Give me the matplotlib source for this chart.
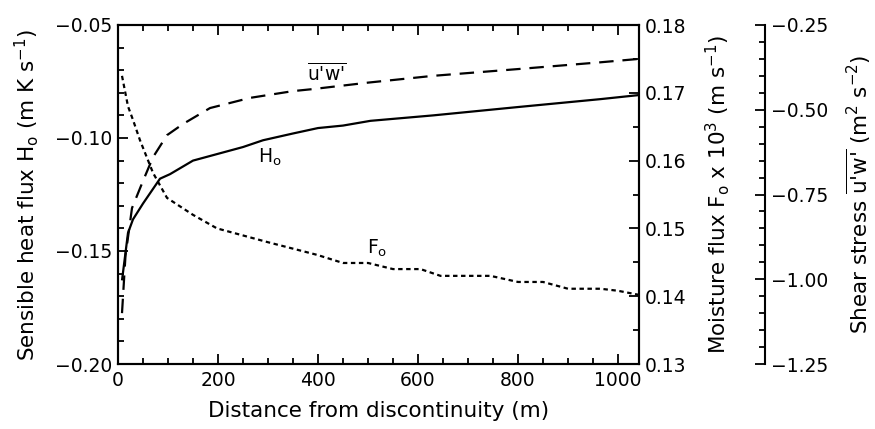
import matplotlib
matplotlib.use("Agg")
import matplotlib.pyplot as plt
from matplotlib.ticker import MultipleLocator, FuncFormatter

# ---- data ----
x_H = [8, 12, 20, 30, 50, 84, 104, 150, 200, 250, 290, 350, 400, 450, 505, 630, 800, 965, 1042]
H = [-0.163, -0.156, -0.142, -0.136, -0.129, -0.118, -0.116, -0.110, -0.107, -0.104,
     -0.101, -0.098, -0.0956, -0.0945, -0.0924, -0.090, -0.0863, -0.0828, -0.081]

x_U = [8, 15, 28, 50, 70, 98, 130, 184, 264, 350, 390, 500, 630, 800, 965, 1042]
UW = [-1.10, -0.93, -0.79, -0.71, -0.64, -0.575, -0.542, -0.495, -0.465, -0.445,
      -0.439, -0.42, -0.40, -0.38, -0.36, -0.35]

x_F = [8, 20, 30, 44, 70, 98, 150, 198, 298, 398, 450, 500, 550, 605, 645, 745, 800,
       850, 900, 965, 1000, 1042]
F = [0.1725, 0.168, 0.166, 0.163, 0.1582, 0.1545, 0.152, 0.150, 0.148, 0.1461, 0.1449,
     0.1449, 0.144, 0.144, 0.143, 0.143, 0.1421, 0.1421, 0.1411, 0.1411, 0.1408, 0.1402]

x_ticks = [0, 200, 400, 600, 800, 1000]

plt.rcParams['font.family'] = ['DejaVu Sans']
FS = 13.5
LFS = 15.5

def fmt2(v, pos):
    s = '%.2f' % v
    return s.replace('-', '\u2212')

fig = plt.figure(figsize=(8.75, 4.29), dpi=100)
ax = fig.add_axes([118/875, 1-364/429, (639-118)/875, (364-25)/429])
ax2 = ax.twinx()
ax3 = ax.twinx()
ax3.spines['right'].set_position(('outward', 126*72/100))
for s in ['top', 'left', 'bottom']:
    ax3.spines[s].set_visible(False)

lw = 1.6
ax.plot(x_H, H, color='black', lw=lw, solid_capstyle='butt')
ax2.plot(x_F, F, color='black', lw=lw, dashes=(2.0, 1.6))
ax3.plot(x_U, UW, color='black', lw=lw, dashes=(6.5, 4.0))

ax.set_xlim(0, 1042)
ax.set_ylim(-0.20, -0.05)
ax2.set_ylim(0.13, 0.18)
ax3.set_ylim(-1.25, -0.25)

ax.set_xticks(x_ticks)
ax.xaxis.set_minor_locator(MultipleLocator(50))
ax.yaxis.set_major_locator(MultipleLocator(0.05))
ax.yaxis.set_minor_locator(MultipleLocator(0.01))
ax.yaxis.set_major_formatter(FuncFormatter(fmt2))
ax2.yaxis.set_major_locator(MultipleLocator(0.01))
ax2.yaxis.set_minor_locator(MultipleLocator(0.005))
ax2.yaxis.set_major_formatter(FuncFormatter(fmt2))
ax3.yaxis.set_major_locator(MultipleLocator(0.25))
ax3.yaxis.set_minor_locator(MultipleLocator(0.05))
ax3.yaxis.set_major_formatter(FuncFormatter(fmt2))

ax.tick_params(axis='x', which='both', direction='in', top=True, labelsize=FS, pad=5)
ax.tick_params(axis='y', which='both', direction='in', right=False, labelsize=FS, pad=4)
for a in (ax2, ax3):
    a.tick_params(axis='y', which='both', direction='in', labelsize=FS, pad=4)
for a in (ax, ax2, ax3):
    a.tick_params(which='major', length=7, width=1.3)
    a.tick_params(which='minor', length=4, width=1.3)
    for s in a.spines.values():
        s.set_linewidth(1.5)

ax.set_xlabel('Distance from discontinuity (m)', fontsize=LFS, labelpad=8)
ax.set_ylabel(r'Sensible heat flux H$_\mathregular{o}$ (m K s$^\mathregular{-1}$)',
              fontsize=LFS, labelpad=10)
ax2.set_ylabel(r'Moisture flux F$_\mathregular{o}$ x 10$^\mathregular{3}$ (m s$^\mathregular{-1}$)',
               fontsize=LFS, labelpad=12)
ax3.set_ylabel(r"Shear stress $\overline{\text{u'w'}}$ (m$^\mathregular{2}$ s$^\mathregular{-2}$)",
               fontsize=LFS, labelpad=12)

ax.text(304, -0.1084, r'H$_\mathregular{o}$', fontsize=FS, ha='center', va='center')
ax.text(518, -0.1487, r'F$_\mathregular{o}$', fontsize=FS, ha='center', va='center')
ax.text(418, -0.0715, r"$\overline{\text{u'w'}}$", fontsize=FS, ha='center', va='center')

fig.savefig('out.png', dpi=100)
